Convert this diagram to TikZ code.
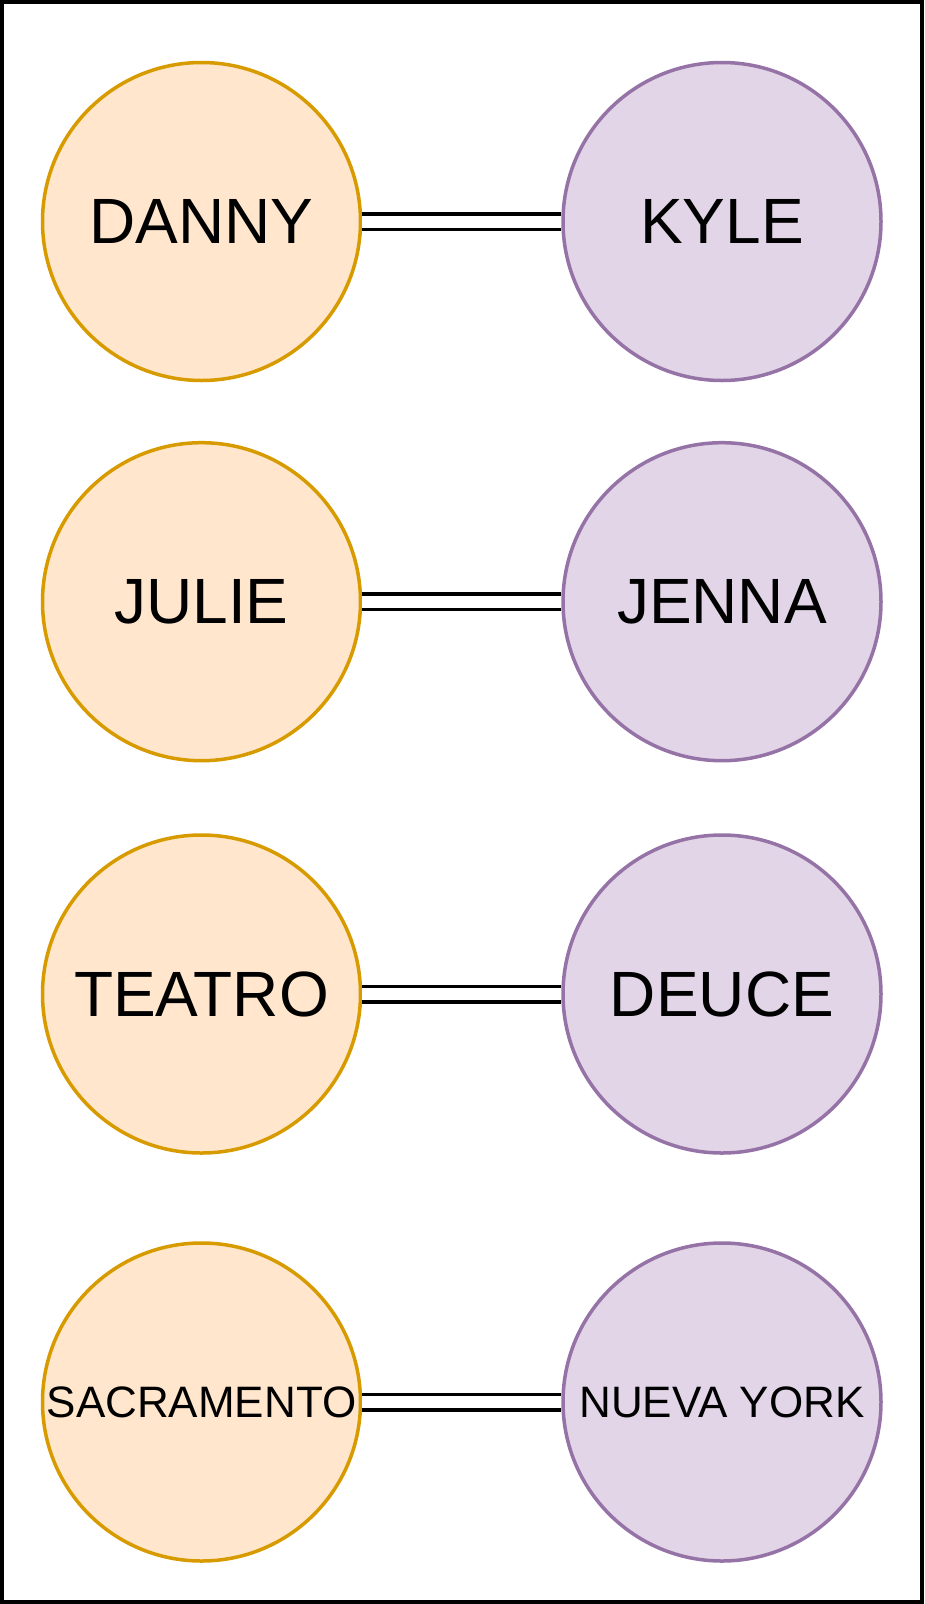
\documentclass[tikz,border=0pt]{standalone}
\usepackage{fontspec}
\setmainfont{Liberation Sans}
\usetikzlibrary{positioning}
\definecolor{mOrangeFill}{HTML}{FFE6CC}
\definecolor{mOrangeLine}{HTML}{D79B00}
\definecolor{mPurpleFill}{HTML}{E1D5E7}
\definecolor{mPurpleLine}{HTML}{9673A6}

\begin{document}
\begin{tikzpicture}[x=1pt, y=-1pt,
    person/.style={circle, minimum size=318pt, inner sep=0pt, line width=3.5pt},
    lside/.style={person, fill=mOrangeFill, draw=mOrangeLine},
    rside/.style={person, fill=mPurpleFill, draw=mPurpleLine},
    link/.style={double, double distance=12pt, line width=3.5pt}]
    \useasboundingbox (0,0) rectangle (924,1604);
    \draw[line width=4pt] (2,2) rectangle (922,1602);
    \foreach \ltxt/\rtxt/\y/\fs [count=\i] in {DANNY/KYLE/221.5/64, JULIE/JENNA/601.7/64,
        TEATRO/DEUCE/994/64, SACRAMENTO/NUEVA YORK/1402/44} {
      \node[lside, font=\fontsize{\fs}{\fs}\selectfont] (l\i) at (201.5,\y) {\ltxt};
      \node[rside, font=\fontsize{\fs}{\fs}\selectfont] (r\i) at (722,\y) {\rtxt};
      \draw[link] (l\i) -- (r\i);
    }
\end{tikzpicture}
\end{document}
